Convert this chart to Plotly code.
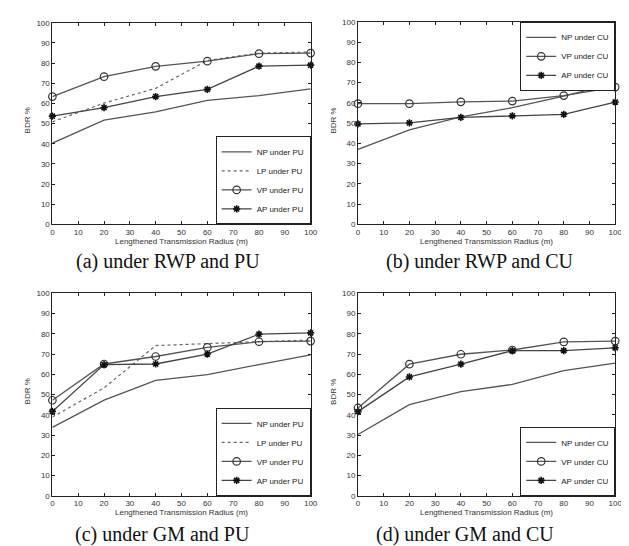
import plotly.graph_objects as go

x_vals = [0, 20, 40, 60, 80, 100]

# (a) RWP, PU
a_np = [40.3, 51.7, 55.8, 61.5, 63.9, 67.2]
a_lp = [50.9, 60.2, 67.5, 81.3, 85.0, 85.5]
a_vp = [63.4, 73.3, 78.4, 81.0, 84.7, 85.0]
a_ap = [53.7, 57.9, 63.4, 67.0, 78.5, 79.0]
# (b) RWP, CU
b_np = [37.0, 46.7, 53.1, 57.6, 63.3, 69.7]
b_vp = [59.6, 59.6, 60.5, 60.9, 63.6, 67.8]
b_ap = [49.6, 50.1, 52.8, 53.6, 54.3, 60.4]
# (c) GM, PU
c_np = [33.8, 47.3, 57.0, 59.9, 64.8, 69.6]
c_lp = [38.9, 53.3, 74.2, 75.3, 76.1, 76.9]
c_vp = [47.2, 65.1, 68.8, 73.3, 76.1, 76.4]
c_ap = [41.7, 64.8, 65.1, 70.0, 79.8, 80.5]
# (d) GM, CU
d_np = [30.3, 45.0, 51.5, 55.0, 61.8, 65.5]
d_vp = [43.4, 65.0, 69.9, 72.0, 76.0, 76.4]
d_ap = [41.6, 58.7, 65.0, 71.7, 71.7, 73.1]

tick_vals = list(range(0, 101, 10))
captions = ["(a) under RWP and PU", "(b) under RWP and CU",
            "(c) under GM and PU", "(d) under GM and CU"]
x_title = "Lengthened Transmission Radius (m)"
y_title = "BDR %"

W, H = 629, 546
LINE = "#555555"
MARK = "#333333"

fig = go.Figure()

panels = [
    ("x", "y", "legend", "PU", [("NP", a_np), ("LP", a_lp), ("VP", a_vp), ("AP", a_ap)]),
    ("x2", "y2", "legend2", "CU", [("NP", b_np), ("VP", b_vp), ("AP", b_ap)]),
    ("x3", "y3", "legend3", "PU", [("NP", c_np), ("LP", c_lp), ("VP", c_vp), ("AP", c_ap)]),
    ("x4", "y4", "legend4", "CU", [("NP", d_np), ("VP", d_vp), ("AP", d_ap)]),
]

for xa, ya, lg, mode_name, series in panels:
    for name, vals in series:
        kw = dict(x=x_vals, y=vals, xaxis=xa, yaxis=ya, legend=lg,
                  name=f"{name} under {mode_name}", showlegend=True, cliponaxis=False)
        if name == "NP":
            tr = go.Scatter(mode="lines", line=dict(color=LINE, width=1.3), **kw)
        elif name == "LP":
            tr = go.Scatter(mode="lines", line=dict(color="#666666", width=1.2, dash="dot"), **kw)
        elif name == "VP":
            tr = go.Scatter(mode="lines+markers", line=dict(color=LINE, width=1.3),
                            marker=dict(symbol="circle-open", size=7.5, color=MARK,
                                        line=dict(width=1.2, color=MARK)), **kw)
        else:
            tr = go.Scatter(mode="lines+markers", line=dict(color="#444444", width=1.3),
                            marker=dict(symbol="asterisk-open", size=6, color="#111111",
                                        line=dict(width=1.6, color="#111111")), **kw)
        fig.add_trace(tr)

# pixel boxes of the four plot areas: (left, right, top, bottom)
boxes = [(43, 305, 11, 216), (353, 614, 10, 216), (43, 305, 286, 492), (353, 614, 286, 492)]
caption_pos = [(160, 254), (477, 254), (155, 531), (462, 531)]

def px(v):
    return v / W

def py(v):
    return 1 - v / H

axis_common = dict(showgrid=False, zeroline=False, showline=True, linecolor="#222222",
                   linewidth=1, mirror="ticks", ticks="inside", ticklen=3,
                   tickcolor="#222222", tickfont=dict(family="Liberation Sans", size=8, color="#333333"),
                   range=[0, 100], tickvals=tick_vals, fixedrange=True)

layout = dict(width=W, height=H, margin=dict(l=0, r=0, t=0, b=0),
              paper_bgcolor="white", plot_bgcolor="white", showlegend=True)

legend_style = dict(bgcolor="white", bordercolor="#222222", borderwidth=1,
                    font=dict(family="Liberation Sans", size=8, color="#222222"),
                    tracegroupgap=0, itemwidth=30, xanchor="right")

annotations = []
for i, (l, r, t, b) in enumerate(boxes):
    sfx = "" if i == 0 else str(i + 1)
    layout["xaxis" + sfx] = dict(domain=[px(l), px(r)], anchor="y" + sfx, **axis_common)
    layout["yaxis" + sfx] = dict(domain=[py(b), py(t)], anchor="x" + sfx, **axis_common)
    lg = "legend" if i == 0 else "legend" + str(i + 1)
    if i == 1:
        layout[lg] = dict(x=px(r), y=py(t), yanchor="top", **legend_style)
    else:
        layout[lg] = dict(x=px(r), y=py(b), yanchor="bottom", **legend_style)
    cx = (l + r) / 2
    annotations.append(dict(text=x_title, x=px(cx), y=py(b + 17), xref="paper", yref="paper",
                            showarrow=False, font=dict(family="Liberation Sans", size=8, color="#333333"),
                            xanchor="center", yanchor="middle"))
    annotations.append(dict(text=y_title, x=px(l - 25), y=py((t + b) / 2 - 3), xref="paper", yref="paper",
                            showarrow=False, textangle=-90,
                            font=dict(family="Liberation Sans", size=8, color="#333333"),
                            xanchor="center", yanchor="middle"))
    cxp, cyp = caption_pos[i]
    annotations.append(dict(text=captions[i], x=px(cxp), y=py(cyp), xref="paper", yref="paper",
                            showarrow=False, font=dict(family="Liberation Serif", size=20, color="#111111"),
                            xanchor="center", yanchor="middle"))

layout["annotations"] = annotations
fig.update_layout(**layout)
fig.write_html("out.html")
